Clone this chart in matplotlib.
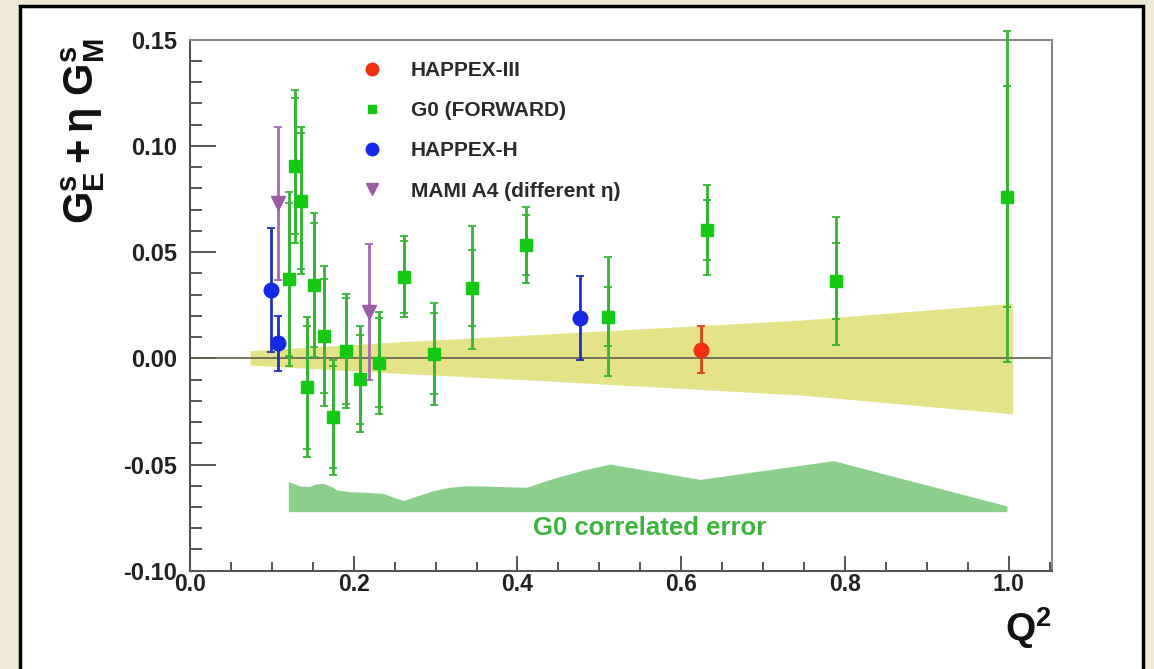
import matplotlib
matplotlib.use("Agg")
import matplotlib.pyplot as plt
from matplotlib.lines import Line2D
from matplotlib.patches import Rectangle
from matplotlib.ticker import MultipleLocator, FormatStrFormatter

plt.rcParams['font.family'] = ['Liberation Sans', 'DejaVu Sans']
plt.rcParams['mathtext.fontset'] = 'custom'
plt.rcParams['mathtext.rm'] = 'Liberation Sans'
plt.rcParams['mathtext.bf'] = 'Liberation Sans:bold'
plt.rcParams['mathtext.it'] = 'Liberation Sans:italic'

# ---- G0 forward-angle data: Q^2, value, statistical error, total error
g0_q2 = [0.121, 0.128, 0.135, 0.143, 0.152, 0.164, 0.175, 0.191, 0.208,
         0.231, 0.261, 0.298, 0.344, 0.411, 0.511, 0.631, 0.789, 0.998]
g0_val = [0.0372, 0.0905, 0.0742, -0.0137, 0.0345, 0.0105, -0.0278, 0.0034, -0.0099,
          -0.0020, 0.0384, 0.0022, 0.0332, 0.0533, 0.0196, 0.0604, 0.0364, 0.0761]
g0_stat = [0.036, 0.032, 0.032, 0.029, 0.029, 0.027, 0.024, 0.025, 0.021,
           0.021, 0.017, 0.019, 0.018, 0.014, 0.014, 0.014, 0.018, 0.052]
g0_tot = [0.041, 0.036, 0.0345, 0.033, 0.034, 0.033, 0.027, 0.027, 0.025,
          0.024, 0.019, 0.024, 0.029, 0.018, 0.028, 0.021, 0.030, 0.078]

# ---- HAPPEX-H
hh_q2 = [0.0986, 0.108, 0.4765]
hh_val = [0.0322, 0.0071, 0.0191]
hh_err = [0.029, 0.013, 0.0197]

# ---- HAPPEX-III
h3_q2 = [0.624]
h3_val = [0.0040]
h3_err = [0.011]

# ---- MAMI A4
a4_q2 = [0.107, 0.219]
a4_val = [0.073, 0.022]
a4_err = [0.036, 0.032]

# ---- theory band
band_q2 = [0.0733, 0.257, 0.415, 0.746, 1.005]
band_hi = [0.0036, 0.0078, 0.0110, 0.0180, 0.0259]
band_lo = [-0.0032, -0.0071, -0.0102, -0.0173, -0.0262]

# ---- G0 correlated error band
corr_q2 = [0.1201, 0.1344, 0.1466, 0.1527, 0.1629, 0.1731, 0.1792, 0.1955, 0.2159,
           0.2362, 0.2484, 0.2607, 0.2770, 0.2973, 0.3177, 0.3381, 0.3584, 0.3787,
           0.4114, 0.4398, 0.4805, 0.5130, 0.6230, 0.7860, 0.9980]
corr_top = [-0.0581, -0.0601, -0.0604, -0.0592, -0.0589, -0.0604, -0.0620, -0.0628, -0.0631,
            -0.0636, -0.0654, -0.0670, -0.0648, -0.0623, -0.0607, -0.0600, -0.0601, -0.0604,
            -0.0607, -0.0570, -0.0526, -0.0498, -0.0570, -0.0482, -0.0695]
corr_base = -0.0722

legend_labels = ["HAPPEX-III", "G0 (FORWARD)", "HAPPEX-H", "MAMI A4 (different η)"]

W, H = 1154, 669
fig = plt.figure(figsize=(W / 100, H / 100), dpi=100)
fig.patch.set_facecolor('#efe9d5')
fig.patches.append(Rectangle((20 / W, -0.02), 1123 / W, 1.02 - 5.5 / H,
                             transform=fig.transFigure, facecolor='white',
                             edgecolor='black', linewidth=2.5, zorder=-5))

ax = fig.add_axes([190 / W, (H - 570.7) / H, 862 / W, 531 / H])
ax.set_zorder(2)
ax.set_facecolor('white')
ax.set_xlim(0, 1.053)
ax.set_ylim(-0.10, 0.15)

red = '#f03010'
green = '#14c814'
green_bar = '#35b535'
blue = '#1428e6'
blue_bar = '#2030c0'
purple = '#9c5aa8'

ax.fill_between(band_q2, band_lo, band_hi, color='#e5e38a', linewidth=0, zorder=1)
ax.fill_between(corr_q2, corr_base, corr_top, color='#8ccf8c', linewidth=0, zorder=1)
ax.axhline(0, color='#606050', linewidth=1.2, zorder=2)

ax.errorbar(g0_q2, g0_val, yerr=g0_tot, fmt='none', ecolor=green_bar, elinewidth=2,
            capsize=3, capthick=1.3, zorder=3, clip_on=False)
ax.errorbar(g0_q2, g0_val, yerr=g0_stat, fmt='none', ecolor=green_bar, elinewidth=2,
            capsize=3, capthick=1.3, zorder=3)
ax.plot(g0_q2, g0_val, 's', color=green, markersize=9, zorder=4)

ax.errorbar(hh_q2, hh_val, yerr=hh_err, fmt='o', color=blue, ecolor=blue_bar,
            markersize=10.5, elinewidth=2, capsize=3, capthick=1.3, zorder=5)
ax.errorbar(h3_q2, h3_val, yerr=h3_err, fmt='o', color=red, ecolor='#e04020',
            markersize=10.5, elinewidth=2, capsize=3, capthick=1.3, zorder=5)
ax.errorbar(a4_q2, a4_val, yerr=a4_err, fmt='v', color=purple, ecolor='#a468b4',
            markersize=10, elinewidth=2, capsize=3, capthick=1.3, zorder=5)

ax.text(0.562, -0.0799, "G0 correlated error", color='#3cb43c', fontsize=18.5,
        fontweight='bold', ha='center', va='center')

handles = [
    Line2D([], [], linestyle='none', marker='o', color=red, markersize=9),
    Line2D([], [], linestyle='none', marker='s', color=green, markersize=6),
    Line2D([], [], linestyle='none', marker='o', color=blue, markersize=9),
    Line2D([], [], linestyle='none', marker='v', color=purple, markersize=9),
]
leg = ax.legend(handles, legend_labels, loc='upper left', bbox_to_anchor=(0.2015, 0.960),
                frameon=False, borderpad=0, borderaxespad=0, handlelength=0.75,
                handletextpad=1.5, labelspacing=1.02,
                prop={'family': 'Liberation Sans', 'weight': 'bold', 'size': 15})
for t in leg.get_texts():
    t.set_color('#2a2a2a')

# axes styling
for side in ['top', 'right', 'left', 'bottom']:
    ax.spines[side].set_color('#888888')
    ax.spines[side].set_linewidth(1.5)
ax.spines['left'].set_color('#555555')
ax.spines['bottom'].set_color('#555555')

ax.xaxis.set_major_locator(MultipleLocator(0.2))
ax.xaxis.set_minor_locator(MultipleLocator(0.05))
ax.yaxis.set_major_locator(MultipleLocator(0.05))
ax.yaxis.set_minor_locator(MultipleLocator(0.01))
ax.xaxis.set_major_formatter(FormatStrFormatter('%.1f'))
ax.yaxis.set_major_formatter(FormatStrFormatter('%.2f'))

ax.tick_params(axis='y', which='major', direction='in', length=18.5, width=1.4,
               color='#555555', pad=9, labelsize=17, labelcolor='#222222')
ax.tick_params(axis='y', which='minor', direction='in', length=8.5, width=1.4, color='#555555')
ax.tick_params(axis='x', which='major', direction='in', length=11, width=1.4,
               color='#555555', pad=2, labelsize=16.5, labelcolor='#222222')
ax.tick_params(axis='x', which='minor', direction='in', length=6.5, width=1.4, color='#555555')
for lbl in ax.get_xticklabels() + ax.get_yticklabels():
    lbl.set_fontweight('bold')

fig.text(83 / W, 1 - 131 / H, r'$\mathbf{G^s_E + \eta\ G^s_M}$', rotation=90,
         ha='center', va='center', fontsize=30, color='#111111')
fig.text(1052 / W, 1 - 628 / H, r'$\mathbf{Q^2}$', ha='right', va='center',
         fontsize=28, color='#111111')

fig.savefig('out.png', dpi=100, facecolor=fig.get_facecolor())
